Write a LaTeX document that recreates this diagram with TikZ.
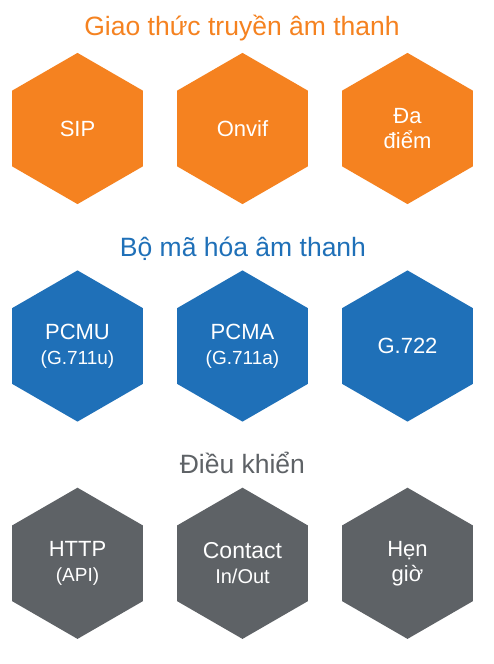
\documentclass[tikz,border=0pt]{standalone}
\usepackage{fontspec}
\setmainfont{Liberation Sans}
\usetikzlibrary{shapes.geometric}
\definecolor{horange}{HTML}{F58220}
\definecolor{hblue}{HTML}{1F70B8}
\definecolor{hgray}{HTML}{5E6266}
\tikzset{
  hexbox/.style={regular polygon, regular polygon sides=6, shape border rotate=30,
    minimum size=151.2pt, inner sep=0pt, draw=none, text=white, align=center,
    font=\fontsize{22}{25}\selectfont},
  titletext/.style={anchor=base, font=\fontsize{26.5}{30}\selectfont},
}
\newcommand{\smalltxt}[1]{{\fontsize{19}{24}\selectfont #1}}
\begin{document}
\begin{tikzpicture}[x=1pt,y=-1pt]
\useasboundingbox (0,0) rectangle (493,664);
\fill[white] (0,0) rectangle (493,664);
% titles
\node[titletext, text=horange] (t1) at (242,35) {Giao thức truyền âm thanh};
\node[titletext, text=hblue] (t2) at (243,256.7) {Bộ mã hóa âm thanh};
\node[titletext, text=hgray] (t3) at (242.4,473.3) {Điều khiển};
% row 1
\node[hexbox, fill=horange] (sip) at (77.5,128.5) {SIP};
\node[hexbox, fill=horange] (onvif) at (242.5,128.5) {Onvif};
\node[hexbox, fill=horange] (dadiem) at (407.5,128.5) {Đa\\điểm};
% row 2
\node[hexbox, fill=hblue] (pcmu) at (77.5,346) {PCMU\\\smalltxt{(G.711u)}};
\node[hexbox, fill=hblue] (pcma) at (242.5,346) {PCMA\\\smalltxt{(G.711a)}};
\node[hexbox, fill=hblue] (g722) at (407.5,346) {G.722};
% row 3
\node[hexbox, fill=hgray] (http) at (77.5,563.3) {HTTP\\\smalltxt{(API)}};
\node[hexbox, fill=hgray, font=\fontsize{23}{25}\selectfont] (contact) at (242.5,563.3) {Contact\\{\fontsize{20}{24}\selectfont In/Out}};
\node[hexbox, fill=hgray] (hengio) at (407.5,563.3) {Hẹn\\giờ};
\end{tikzpicture}
\end{document}
